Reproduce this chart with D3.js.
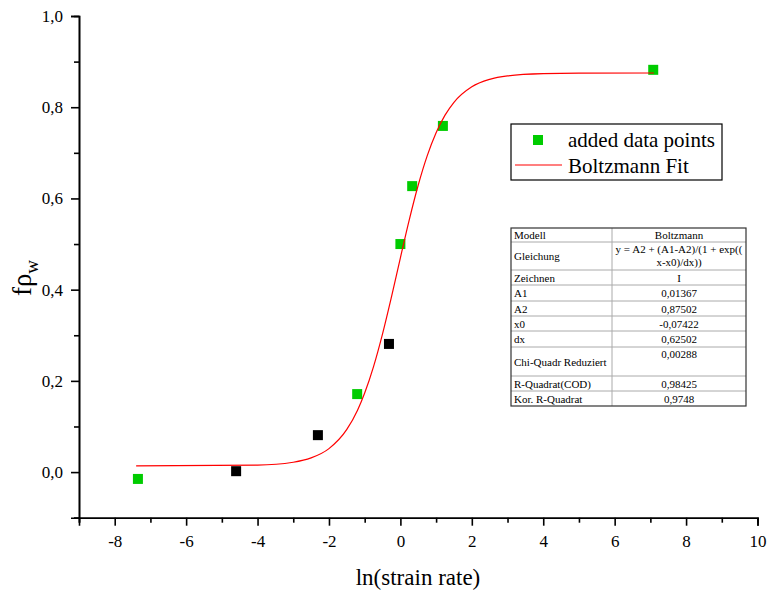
<!DOCTYPE html>
<html>
<head>
<meta charset="utf-8">
<script src="https://cdn.jsdelivr.net/npm/d3@7"></script>
<style>
  body { margin: 0; background: #fff; }
  svg text { font-family: "Liberation Serif", "Times New Roman", Times, "DejaVu Serif", serif; }
</style>
</head>
<body>
<svg id="chart" width="767" height="592"></svg>
<script>
// measured points (green = added, black = original)
const greenX = [-7.35, -1.21, 0.0, 0.33, 1.19, 7.08];
const greenY = [-0.015, 0.171, 0.5, 0.627, 0.759, 0.882];
const blackX = [-4.6, -2.31, -0.32];
const blackY = [0.002, 0.081, 0.281];

// Boltzmann fit curve
const fitX = [-7.4, -4, -3, -2.5, -2, -1.5, -1.2, -1, -0.75, -0.5, -0.25, 0, 0.25, 0.5, 0.75, 1, 1.25, 1.5, 2, 2.5, 3, 4, 5, 7.1];
const fitY = [0.0137, 0.0153, 0.0216, 0.0311, 0.0515, 0.0935, 0.1357, 0.1733, 0.2318, 0.3031, 0.3842, 0.4699, 0.5536, 0.6294, 0.6933, 0.7441, 0.7826, 0.8108, 0.8449, 0.8612, 0.8688, 0.8738, 0.8749, 0.875];

const xTicks = [-8, -6, -4, -2, 0, 2, 4, 6, 8, 10];
const yTicks = [0, 0.2, 0.4, 0.6, 0.8, 1.0];

const legendLabels = ['added data points', 'Boltzmann Fit'];

const tableNames = ['Modell', 'Gleichung', 'Zeichnen', 'A1', 'A2', 'x0', 'dx', 'Chi-Quadr Reduziert', 'R-Quadrat(COD)', 'Kor. R-Quadrat'];
const tableValues = ['Boltzmann', 'y = A2 + (A1-A2)/(1 + exp((|x-x0)/dx))', 'I', '0,01367', '0,87502', '-0,07422', '0,62502', '0,00288', '0,98425', '0,9748'];

const serif = '"Liberation Serif", "Times New Roman", Times, "DejaVu Serif", serif';
const svg = d3.select('#chart');
const fmt = d => d3.format('.1f')(d).replace('.', ',');

const x = d3.scaleLinear().domain([-9, 10]).range([79, 757.5]);
const y = d3.scaleLinear().domain([-0.1, 1.0]).range([517.7, 16]);

// axes
const xAxis = svg.append('g')
  .attr('transform', `translate(0,${y(-0.1)})`)
  .call(d3.axisBottom(x).tickValues(xTicks).tickSize(8).tickPadding(6).tickFormat(d => d));
const xMinor = svg.append('g')
  .attr('transform', `translate(0,${y(-0.1)})`)
  .call(d3.axisBottom(x).tickValues(d3.range(-9, 10, 2)).tickSize(5).tickFormat(''));
const yAxis = svg.append('g')
  .attr('transform', `translate(${x(-9)},0)`)
  .call(d3.axisLeft(y).tickValues(yTicks).tickSize(8).tickPadding(8).tickFormat(fmt));
const yMinor = svg.append('g')
  .attr('transform', `translate(${x(-9)},0)`)
  .call(d3.axisLeft(y).tickValues([-0.1, 0.1, 0.3, 0.5, 0.7, 0.9]).tickSize(5).tickFormat(''));

[xAxis, xMinor, yAxis, yMinor].forEach(a => {
  a.attr('font-family', serif);
  a.selectAll('.domain').attr('stroke', '#000').attr('stroke-width', 1.6);
  a.selectAll('.tick line').attr('stroke', '#000').attr('stroke-width', 1.6);
  a.selectAll('.tick text').attr('fill', '#000')
    .attr('font-family', serif).attr('font-size', 17);
});
xAxis.selectAll('.tick text').attr('dy', '0.9em');

// axis titles
svg.append('text')
  .attr('x', 418).attr('y', 585)
  .attr('text-anchor', 'middle')
  .attr('font-family', serif).attr('font-size', 23)
  .text('ln(strain rate)');

const yl = svg.append('text')
  .attr('transform', 'translate(31,278) rotate(-90)')
  .attr('text-anchor', 'middle')
  .attr('font-family', serif).attr('font-size', 27);
yl.append('tspan').text('fρ');
yl.append('tspan').attr('dy', 7).attr('font-size', 19).text('w');

// points
svg.append('g').selectAll('rect')
  .data(greenX.map((d, i) => [d, greenY[i]]))
  .enter().append('rect')
  .attr('x', d => x(d[0]) - 5).attr('y', d => y(d[1]) - 5)
  .attr('width', 10).attr('height', 10)
  .attr('fill', '#00cc00');

svg.append('g').selectAll('rect')
  .data(blackX.map((d, i) => [d, blackY[i]]))
  .enter().append('rect')
  .attr('x', d => x(d[0]) - 5).attr('y', d => y(d[1]) - 5)
  .attr('width', 10).attr('height', 10)
  .attr('fill', '#000');

// fit line
const line = d3.line().x(d => x(d[0])).y(d => y(d[1])).curve(d3.curveMonotoneX);
svg.append('path')
  .datum(fitX.map((d, i) => [d, fitY[i]]))
  .attr('d', line)
  .attr('fill', 'none')
  .attr('stroke', '#ff0000')
  .attr('stroke-width', 1.2);

// legend
const lg = svg.append('g').attr('transform', 'translate(511,124)');
lg.append('rect').attr('width', 211).attr('height', 56)
  .attr('fill', '#fff').attr('stroke', '#000').attr('stroke-width', 1.2);
lg.append('rect').attr('x', 22).attr('y', 11).attr('width', 10).attr('height', 10).attr('fill', '#00cc00');
lg.append('line').attr('x1', 4).attr('x2', 51).attr('y1', 41).attr('y2', 41)
  .attr('stroke', '#ff0000').attr('stroke-width', 1.2);
lg.selectAll('text.lab')
  .data(legendLabels)
  .enter().append('text')
  .attr('class', 'lab')
  .attr('x', 57)
  .attr('y', (d, i) => 23 + i * 26)
  .attr('font-family', serif).attr('font-size', 21)
  .text(d => d);

// parameter table
const tx = 511, tw = 235, col = 101;
const rowH = [14, 28, 15, 16, 15, 15, 16, 29, 15, 15];
const tg = svg.append('g').attr('transform', `translate(${tx},228)`)
  .attr('font-family', serif).attr('font-size', 11);
let ty = 0;
tableNames.forEach((name, i) => {
  const h = rowH[i];
  if (i > 0) {
    tg.append('line').attr('x1', 0).attr('x2', tw).attr('y1', ty).attr('y2', ty)
      .attr('stroke', '#aaa').attr('stroke-width', 1);
  }
  tg.append('text').attr('x', 3).attr('y', ty + h / 2 + 4).text(name);
  const parts = tableValues[i].split('|');
  parts.forEach((p, j) => {
    let yy;
    if (parts.length > 1) yy = ty + 11 + j * 13;
    else if (h > 20) yy = ty + 11;
    else yy = ty + h / 2 + 4;
    tg.append('text').attr('x', col + (tw - col) / 2).attr('y', yy)
      .attr('text-anchor', 'middle').text(p);
  });
  ty += h;
});
tg.append('line').attr('x1', col).attr('x2', col).attr('y1', 0).attr('y2', ty)
  .attr('stroke', '#aaa').attr('stroke-width', 1);
tg.append('rect').attr('width', tw).attr('height', ty)
  .attr('fill', 'none').attr('stroke', '#333').attr('stroke-width', 1.2);
</script>
</body>
</html>
